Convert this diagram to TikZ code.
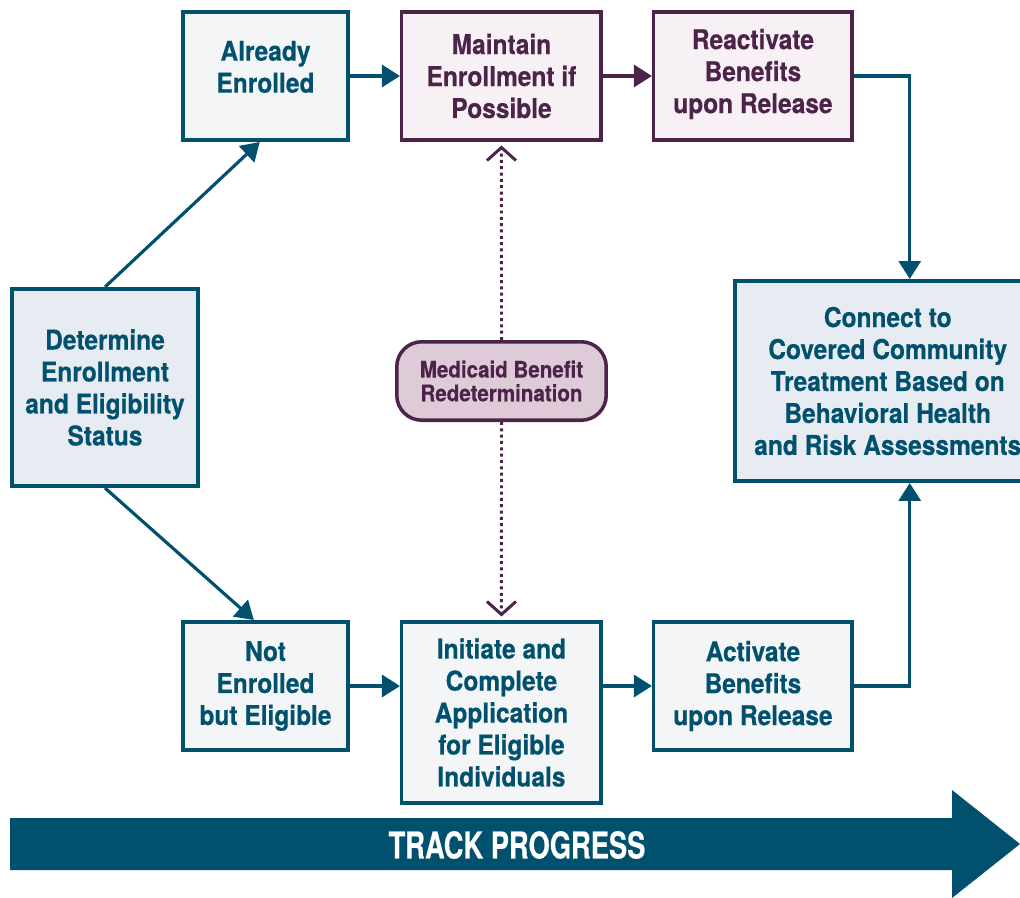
\documentclass[tikz,border=0pt]{standalone}
\usepackage{fontspec}
\setmainfont{TeX Gyre Heros}[FakeStretch=0.9,FakeBold=0.4]
\newfontfamily\trackfont{TeX Gyre Heros}[FakeStretch=0.74,FakeBold=0.4]
\usetikzlibrary{arrows.meta,positioning}
\definecolor{tealdark}{HTML}{00506E}
\definecolor{plum}{HTML}{4D2449}
\definecolor{boxfill}{HTML}{F3F5F7}
\definecolor{boxshade}{HTML}{E6ECF1}
\definecolor{plumfill}{HTML}{F7F1F6}
\definecolor{plumpill}{HTML}{DDCBD7}

\begin{document}
\begin{tikzpicture}[x=0.02cm,y=-0.02cm,>={Triangle[length=0.36cm,width=0.44cm]},node distance=1cm,
  box/.style={draw=tealdark,line width=2pt,fill=boxfill,text=tealdark,align=center,inner sep=2pt,
    minimum height=2.57cm,font=\fontsize{15.5}{18.2}\selectfont\bfseries},
  shaded/.style={box,fill=boxshade},
  pbox/.style={box,draw=plum,fill=plumfill,text=plum},
  pill/.style={pbox,fill=plumpill,rounded corners=0.5cm,minimum width=4.19cm,minimum height=1.57cm,
    font=\fontsize{13}{13.5}\selectfont\bfseries},
  link/.style={->,draw=tealdark,line width=1.8pt},
  dots/.style={-{Straight Barb[length=0.26cm,width=0.58cm,line width=1.7pt]},draw=plum,line width=1.7pt,
    dash pattern=on 1.7pt off 1.9pt,shorten >=2pt}]
\useasboundingbox (0,0) rectangle (1020,898);

\node[shaded,minimum width=3.73cm,minimum height=3.95cm,anchor=north west] (det) at (10,287) {Determine\\Enrollment\\and Eligibility\\Status};
\node[box,minimum width=3.31cm,text depth=0.37cm,anchor=north west] (already) at (181,10) {Already\\Enrolled};
  \node[pbox,minimum width=3.99cm] (maintain) [right=of already] {Maintain\\Enrollment if\\Possible};
  \node[pbox,minimum width=3.97cm,text depth=0.2cm] (react) [right=0.98cm of maintain] {Reactivate\\Benefits\\upon Release};
\node[shaded,minimum width=6.12cm,minimum height=4.01cm,anchor=north west] (connect) at (733,279) {Connect to\\Covered Community\\Treatment Based on\\Behavioral Health\\and Risk Assessments};
\node[box,minimum width=3.31cm,anchor=north west] (notenr) at (181,620) {Not\\Enrolled\\but Eligible};
  \node[box,minimum width=3.99cm,minimum height=3.63cm] (init) [below right=0cm and 1cm of notenr.north east] {Initiate and\\Complete\\Application\\for Eligible\\Individuals};
  \node[box,minimum width=3.97cm] (activ) [below right=0cm and 0.98cm of init.north east] {Activate\\Benefits\\upon Release};
\node[pill] (medi) at (501.5,381) {Medicaid Benefit\\Redetermination};

\draw[link] (det.north) -- (already.265);
\draw[link] (det.south) -- (notenr.100);
\draw[link] (already) -- (maintain);
\draw[link,draw=plum] (maintain) -- (react);
\draw[link] (react.east) -| ([xshift=0.44cm]connect.north);
\draw[link] (activ.east) -| ([xshift=0.44cm]connect.south);
\draw[link] (notenr.east) -- (notenr.east -| init.west);
\draw[link] (activ.west -| init.east) -- (activ.west);
\draw[dots] (medi.north) -- (maintain.south);
\draw[dots] (medi.south) -- (init.north);

% progress arrow
\fill[tealdark] (10,818) -- (952,818) -- (952,790) -- (1020,844) -- (952,898) -- (952,870) -- (10,870) -- cycle;
\node[text=white,font=\trackfont\bfseries\fontsize{21}{21}\selectfont] (track) at (517,845) {TRACK PROGRESS};
\end{tikzpicture}
\end{document}
